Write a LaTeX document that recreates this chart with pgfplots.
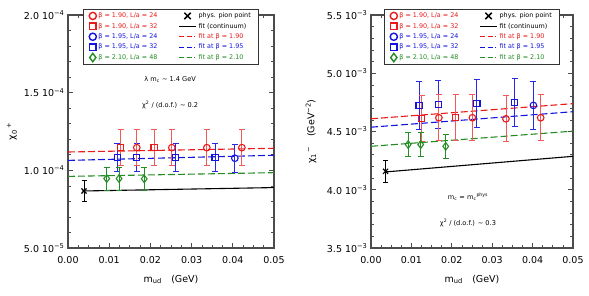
\documentclass[border=0pt]{standalone}
\usepackage{fontspec}
\setmainfont{DejaVu Sans}
\usepackage{pgfplots}
\pgfplotsset{compat=1.18}
\definecolor{cred}{RGB}{235,25,25}
\definecolor{cblue}{RGB}{20,20,225}
\definecolor{cgreen}{RGB}{35,140,35}
\definecolor{ered}{RGB}{240,90,90}
\definecolor{ablue}{RGB}{40,40,230}
\pgfplotsset{
  chi/.style={
    scale only axis, height=233pt,
    xmin=0, xmax=0.05, xtick={0,0.01,0.02,0.03,0.04,0.05},
    minor x tick num=3, minor y tick num=4,
    tick align=inside, major tick length=5pt, minor tick length=3pt,
    axis line style={black!70, line width=1.1pt},
    every tick/.style={black!70, line width=0.7pt},
    x tick label style={/pgf/number format/.cd, fixed, fixed zerofill, precision=2, /tikz/.cd, yshift=-4.5pt},
    /pgf/number format/assume math mode=true,
    ticklabel style={font=\fontsize{9.5}{11}\selectfont},
    scaled ticks=false,
    label style={font=\fontsize{9.5}{11}\selectfont},
    xlabel={m\textsubscript{ud}\quad (GeV)},
    xlabel style={at={(axis description cs:0.5,-0.135)}, anchor=center},
    legend columns=2,
    legend cell align=left,
    legend style={at={(0.5,1.026)}, anchor=north, draw=black!80, line width=0.6pt,
      font=\fontsize{6.4}{7.5}\selectfont, row sep=0pt, inner xsep=6pt, inner ysep=1.5pt,
      /tikz/every even column/.append style={column sep=19pt}},
    error bars/y dir=both, error bars/y explicit,
  },
  rc/.style={only marks, mark=o, mark size=3.3pt, mark options={draw=cred, line width=1.1pt},
    error bars/error bar style={ered, line width=0.8pt},
    error bars/error mark options={rotate=90, mark size=3pt, ered, line width=0.8pt}},
  rs/.style={only marks, mark=square, mark size=3.1pt, mark options={draw=cred, line width=1.1pt},
    error bars/error bar style={ered, line width=0.8pt},
    error bars/error mark options={rotate=90, mark size=3pt, ered, line width=0.8pt}},
  bc/.style={only marks, mark=o, mark size=3.3pt, mark options={draw=cblue, line width=1.1pt},
    error bars/error bar style={ablue, line width=0.8pt},
    error bars/error mark options={rotate=90, mark size=3pt, ablue, line width=0.8pt}},
  bs/.style={only marks, mark=square, mark size=3.1pt, mark options={draw=cblue, line width=1.1pt},
    error bars/error bar style={ablue, line width=0.8pt},
    error bars/error mark options={rotate=90, mark size=3pt, ablue, line width=0.8pt}},
  gd/.style={only marks, mark=diamond, mark size=3.8pt, mark options={draw=cgreen, line width=1.1pt},
    error bars/error bar style={cgreen, line width=0.8pt},
    error bars/error mark options={rotate=90, mark size=3pt, cgreen, line width=0.8pt}},
  kx/.style={only marks, mark=x, mark size=3.6pt, mark options={black, line width=1.2pt},
    error bars/error bar style={black, line width=0.9pt},
    error bars/error mark options={rotate=90, mark size=2.5pt, black, line width=0.9pt}},
  dl/.style={dash pattern=on 7pt off 3pt, line width=1.1pt},
  ldl/.style={dash pattern=on 5pt off 2.5pt on 5pt off 2.5pt on 1.2pt off 3pt, line width=1.1pt},
  lgm/.style={only marks, mark size=3.6pt, mark options={line width=1.4pt}},
}
\newcommand\mylegend{%
\addlegendimage{lgm, mark=o, cred}\addlegendentry{\textcolor{cred}{β = 1.90, L/a = 24}}
\addlegendimage{only marks, mark=x, mark size=4.5pt, mark options={line width=1.5pt}, black}\addlegendentry{phys. pion point}
\addlegendimage{lgm, mark=square, mark size=3.3pt, cred}\addlegendentry{\textcolor{cred}{β = 1.90, L/a = 32}}
\addlegendimage{black, line width=1.1pt}\addlegendentry{fit (continuum)}
\addlegendimage{lgm, mark=o, cblue}\addlegendentry{\textcolor{cblue}{β = 1.95, L/a = 24}}
\addlegendimage{cred, ldl}\addlegendentry{\textcolor{cred}{fit at β = 1.90}}
\addlegendimage{lgm, mark=square, mark size=3.3pt, cblue}\addlegendentry{\textcolor{cblue}{β = 1.95, L/a = 32}}
\addlegendimage{cblue, ldl}\addlegendentry{\textcolor{cblue}{fit at β = 1.95}}
\addlegendimage{lgm, mark=diamond, mark size=4.2pt, cgreen}\addlegendentry{\textcolor{cgreen}{β = 2.10, L/a = 48}}
\addlegendimage{cgreen, ldl}\addlegendentry{\textcolor{cgreen}{fit at β = 2.10}}
}
\begin{document}
\begin{tikzpicture}
\path[use as bounding box] (0,0) rectangle (589pt,295pt);
% ---------------- left panel ----------------
\begin{axis}[chi, at={(68pt,47pt)}, anchor=south west, width=206pt,
  ymin=5e-5, ymax=2e-4, ytick={5e-5,1e-4,1.5e-4,2e-4},
  yticklabels={5.0 10\textsuperscript{−5},1.0 10\textsuperscript{−4},1.5 10\textsuperscript{−4},2.0 10\textsuperscript{−4}},
  ylabel={χ\textsubscript{0}\textsuperscript{\,+}},
  ylabel style={at={(axis description cs:-0.272,0.5)}, anchor=center},
]
\mylegend
\addplot[cred, dl, forget plot] coordinates {(0,1.118e-4) (0.05,1.142e-4)};
\addplot[cblue, dl, forget plot] coordinates {(0,1.064e-4) (0.05,1.097e-4)};
\addplot[cgreen, dl, forget plot] coordinates {(0,0.961e-4) (0.05,0.985e-4)};
\addplot[black, line width=1.1pt, forget plot] coordinates {(0.0035,0.867e-4) (0.05,0.889e-4)};
\addplot[rs, forget plot] coordinates {(0.0128,1.146e-4) +- (0,1.15e-5) (0.0209,1.146e-4) +- (0,1.15e-5)};
\addplot[bs, forget plot] coordinates {(0.0120,1.082e-4) +- (0,9e-6) (0.0167,1.082e-4) +- (0,9e-6) (0.0261,1.082e-4) +- (0,9e-6) (0.0357,1.082e-4) +- (0,9e-6)};
\addplot[bc, forget plot] coordinates {(0.0405,1.078e-4) +- (0,9e-6)};
\addplot[rc, forget plot] coordinates {(0.0167,1.146e-4) +- (0,1.15e-5) (0.0252,1.146e-4) +- (0,1.15e-5) (0.0337,1.146e-4) +- (0,1.15e-5) (0.0422,1.146e-4) +- (0,1.15e-5)};
\addplot[gd, forget plot] coordinates {(0.0094,0.947e-4) +- (0,7.5e-6) (0.0124,0.947e-4) +- (0,7.5e-6) (0.0185,0.945e-4) +- (0,7.5e-6)};
\addplot[kx, forget plot] coordinates {(0.0039,0.867e-4) +- (0,6.5e-6)};
\node[font=\fontsize{6.6}{8}\selectfont] at (axis cs:0.0248,1.586e-4) {λ m\textsubscript{c} ∼ 1.4 GeV};
\node[font=\fontsize{6.6}{8}\selectfont] at (axis cs:0.0248,1.418e-4) {χ\textsuperscript{2} / (d.o.f.) ∼ 0.2};
\end{axis}
% ---------------- right panel ----------------
\begin{axis}[chi, at={(371pt,47pt)}, anchor=south west, width=202pt,
  ymin=3.5e-3, ymax=5.5e-3, ytick={3.5e-3,4e-3,4.5e-3,5e-3,5.5e-3},
  yticklabels={3.5 10\textsuperscript{−3},4.0 10\textsuperscript{−3},4.5 10\textsuperscript{−3},5.0 10\textsuperscript{−3},5.5 10\textsuperscript{−3}},
  ylabel={χ\textsubscript{1}\textsuperscript{\,−}\quad (GeV\textsuperscript{−2})},
  ylabel style={at={(axis description cs:-0.297,0.5)}, anchor=center},
]
\mylegend
\addplot[cred, dl, forget plot] coordinates {(0,4.609e-3) (0.05,4.739e-3)};
\addplot[cblue, dl, forget plot] coordinates {(0,4.537e-3) (0.05,4.670e-3)};
\addplot[cgreen, dl, forget plot] coordinates {(0,4.373e-3) (0.05,4.503e-3)};
\addplot[black, line width=1.1pt, forget plot] coordinates {(0.0036,4.153e-3) (0.05,4.287e-3)};
\addplot[bs, forget plot] coordinates {(0.0119,4.724e-3) +- (0,2.05e-4) (0.0167,4.733e-3) +- (0,2.05e-4) (0.0262,4.740e-3) +- (0,2.05e-4) (0.0356,4.747e-3) +- (0,2.05e-4)};
\addplot[bc, forget plot] coordinates {(0.0402,4.724e-3) +- (0,2.05e-4)};
\addplot[rs, forget plot] coordinates {(0.0125,4.609e-3) +- (0,1.98e-4) (0.0210,4.618e-3) +- (0,1.98e-4)};
\addplot[rc, forget plot] coordinates {(0.0168,4.618e-3) +- (0,1.98e-4) (0.0251,4.618e-3) +- (0,1.98e-4) (0.0334,4.609e-3) +- (0,1.98e-4) (0.0420,4.618e-3) +- (0,1.98e-4)};
\addplot[gd, forget plot] coordinates {(0.0092,4.388e-3) +- (0,1.0e-4) (0.0123,4.388e-3) +- (0,1.0e-4) (0.0185,4.373e-3) +- (0,1.0e-4)};
\addplot[kx, forget plot] coordinates {(0.0036,4.158e-3) +- (0,0.95e-4)};
\node[font=\fontsize{6.6}{8}\selectfont] at (axis cs:0.024,3.937e-3) {m\textsubscript{c} = m\textsubscript{c}\textsuperscript{phys}};
\node[font=\fontsize{6.6}{8}\selectfont] at (axis cs:0.024,3.713e-3) {χ\textsuperscript{2} / (d.o.f.) ∼ 0.3};
\end{axis}
\end{tikzpicture}
\end{document}
